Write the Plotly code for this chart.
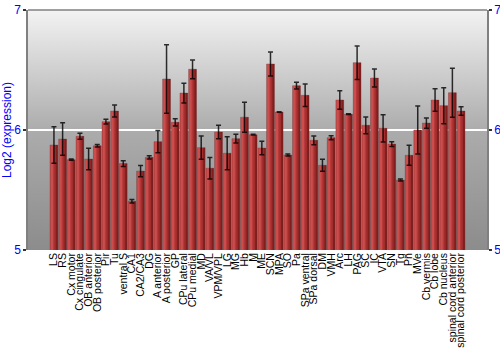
import base64
import plotly.graph_objects as go

regions = ["LS", "RS", "Cx motor", "Cx cingulate", "OB anterior", "OB posterior", "Pir", "Tu",
           "ventral S", "CA1", "CA2/CA3", "DG", "A anterior", "A posterior", "GP", "CPu lateral",
           "CPu medial", "MD", "VA/VL", "VPM/VPL", "LG", "MG", "Hb", "M", "ME", "SCN", "MPA", "SO",
           "Pa", "SPa ventral", "SPa dorsal", "DM", "VMH", "Arc", "LH", "PAG", "SC", "IC", "VTA",
           "SN", "Tg", "Pn", "MVe", "Cb vermis", "Cb lobe", "Cb nucleus", "spinal cord anterior",
           "spinal cord posterior"]

expression = [5.875, 5.925, 5.753, 5.947, 5.758, 5.869, 6.069, 6.158,
              5.720, 5.406, 5.658, 5.772, 5.903, 6.425, 6.064, 6.308,
              6.506, 5.853, 5.681, 5.983, 5.806, 5.928, 6.106, 5.961, 5.850, 6.550, 6.150, 5.792,
              6.369, 6.289, 5.914, 5.706, 5.936, 6.250, 6.133, 6.561, 6.039, 6.433, 6.014,
              5.883, 5.583, 5.789, 6.000, 6.058, 6.250, 6.203, 6.311,
              6.158]

error = [0.153, 0.136, 0.005, 0.025, 0.090, 0.010, 0.020, 0.050,
         0.024, 0.015, 0.047, 0.014, 0.093, 0.285, 0.030, 0.082,
         0.078, 0.096, 0.089, 0.056, 0.137, 0.037, 0.125, 0.003, 0.056, 0.100, 0.003, 0.008,
         0.028, 0.094, 0.037, 0.050, 0.017, 0.078, 0.003, 0.140, 0.070, 0.075, 0.114,
         0.020, 0.008, 0.083, 0.200, 0.043, 0.094, 0.150, 0.204,
         0.035]

y_ticks = [5, 6, 7]

BLUE = "#0000ff"
AXIS_GRAY = "#808080"

svg = ('<svg xmlns="http://www.w3.org/2000/svg" width="10" height="100" viewBox="0 0 10 100" '
       'preserveAspectRatio="none"><defs><linearGradient id="g" x1="0" y1="0" x2="0" y2="1">'
       '<stop offset="0" stop-color="#f3f3f3"/><stop offset="0.5" stop-color="#acacac"/>'
       '<stop offset="1" stop-color="#8c8c8c"/></linearGradient></defs>'
       '<rect width="10" height="100" fill="url(#g)"/></svg>')
bg_src = "data:image/svg+xml;base64," + base64.b64encode(svg.encode()).decode()

fig = go.Figure()

# main bar body
fig.add_trace(go.Bar(x=regions, y=expression, width=0.9, offset=-0.45,
                     marker=dict(color="#b83838", line=dict(width=0.6, color="rgba(110,60,60,0.6)")),
                     showlegend=False, hoverinfo="skip"))
# light left highlight
fig.add_trace(go.Bar(x=regions, y=expression, width=0.28, offset=-0.40,
                     marker=dict(color="rgba(235,120,120,0.35)", line=dict(width=0)),
                     showlegend=False, hoverinfo="skip"))
# darker right shading
fig.add_trace(go.Bar(x=regions, y=expression, width=0.42, offset=0.03,
                     marker=dict(color="rgba(80,10,10,0.22)", line=dict(width=0)),
                     showlegend=False, hoverinfo="skip"))
fig.add_trace(go.Bar(x=regions, y=expression, width=0.22, offset=0.22,
                     marker=dict(color="rgba(70,5,5,0.35)", line=dict(width=0)),
                     showlegend=False, hoverinfo="skip"))

# error bars
fig.add_trace(go.Scatter(x=regions, y=expression, mode="markers", yaxis="y2",
                         marker=dict(opacity=0, size=1),
                         error_y=dict(type="data", array=error, visible=True,
                                      color="rgba(0,0,0,0.8)", thickness=1.5, width=2.5),
                         showlegend=False, hoverinfo="skip"))

fig.update_layout(
    width=500, height=350,
    margin=dict(l=28, r=13, t=10, b=100),
    paper_bgcolor="white",
    plot_bgcolor="rgba(0,0,0,0)",
    barmode="overlay",
    font=dict(family="Arial, Liberation Sans, sans-serif", color="black"),
    xaxis=dict(type="category", tickangle=-90, tickfont=dict(size=10.5, color="black"),
               tickmode="array", tickvals=regions, ticktext=regions, automargin=False,
               showgrid=False, showline=False, ticks="", zeroline=False),
    yaxis=dict(range=[5, 7], tickvals=y_ticks, showgrid=False, zeroline=False, automargin=False,
               showline=True, linecolor=AXIS_GRAY, linewidth=1.5,
               ticks="outside", ticklen=3, tickcolor="#333333", tickwidth=1.5,
               tickfont=dict(size=12, color=BLUE),
               title=dict(text="Log2 (expression)", font=dict(size=12, color=BLUE), standoff=2)),
    yaxis2=dict(range=[5, 7], tickvals=y_ticks, overlaying="y", side="right", automargin=False,
                showgrid=False, zeroline=False,
                showline=True, linecolor=AXIS_GRAY, linewidth=1.5,
                ticks="outside", ticklen=3, tickcolor="#333333", tickwidth=1.5,
                tickfont=dict(size=12, color=BLUE)),
    images=[dict(source=bg_src, xref="paper", yref="paper", x=0, y=1, sizex=1, sizey=1,
                 sizing="stretch", layer="below", xanchor="left", yanchor="top")],
    shapes=[
        dict(type="line", xref="paper", yref="y", x0=0, x1=1, y0=6, y1=6,
             line=dict(color="white", width=2), layer="below"),
        dict(type="line", xref="paper", yref="paper", x0=0, x1=1, y0=1, y1=1,
             line=dict(color=AXIS_GRAY, width=1.5), layer="above"),
    ],
)

fig.write_html("out.html")
